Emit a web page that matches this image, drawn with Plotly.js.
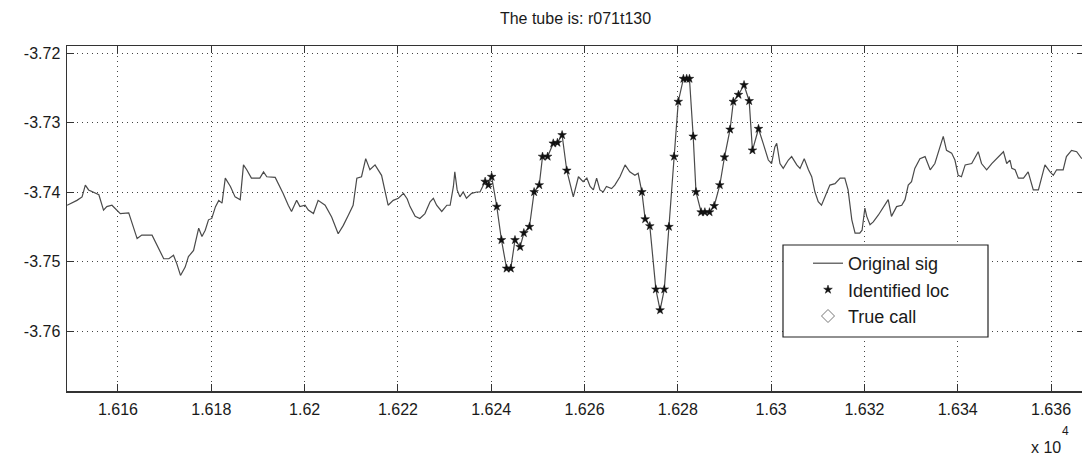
<!DOCTYPE html>
<html>
<head>
<meta charset="utf-8">
<script src="https://cdn.plot.ly/plotly-3.0.1.min.js"></script>
<style>
html,body{margin:0;padding:0;background:#fff;overflow:hidden;}
#chart{width:1084px;height:462px;}
</style>
</head>
<body>
<div id="chart"></div>
<script>
// Original signal (x in samples, y values)
const sigX = [16149.1,16150.1,16151.2,16152.3,16153.0,16153.7,16154.8,16155.9,16156.9,16157.6,16158.7,16159.8,16160.5,16162.3,16164.1,16165.1,16167.3,16169.8,16170.9,16171.9,16172.6,16173.4,16174.4,16175.1,16176.2,16177.3,16178.0,16178.7,16179.4,16180.1,16180.9,16181.6,16182.3,16183.0,16184.1,16185.1,16186.2,
16186.9,16187.6,16188.6,16190.4,16191.2,16191.9,16193.7,16194.4,16195.4,16196.5,16197.2,16198.3,16199.0,16200.1,16200.8,16201.9,16202.9,16204.4,16205.8,16207.2,16208.3,16209.4,16210.4,16211.2,16212.2,16213.1,16214.0,16215.1,16216.5,16217.9,16219.0,16220.1,16221.2,
16222.0,16222.6,16223.7,16224.7,16225.8,16226.9,16227.6,16228.3,16229.4,16230.5,16231.2,16231.9,16232.2,16232.7,16233.3,16234.0,16234.7,16235.8,16236.9,16237.6,
16238.7,16239.4,16240.1,16241.2,16242.2,16243.3,16244.2,16245.1,16246.2,16247.0,16248.2,16249.2,16250.3,16251.0,16252.1,16253.3,16254.2,16255.2,16256.2,
16257.6,16258.7,16259.7,16260.5,16261.2,16261.9,16262.6,16263.3,16264.0,16264.7,16265.8,16266.5,16267.6,16268.7,16269.7,16270.8,16271.5,
16272.3,16273.0,16274.0,16275.3,16276.2,16277.1,16278.1,16279.2,16280.1,16281.2,16281.9,16282.5,16283.3,16283.9,16285.0,16285.8,16286.8,16287.8,16289.0,16290.0,16291.2,16291.9,16293.0,16294.2,16295.3,16296.0,16297.3,
16298.3,16299.4,16300.1,16300.8,16301.2,16301.9,16302.6,16303.7,16304.4,16305.5,16306.2,16307.1,16308.0,16308.7,16309.4,16310.1,16310.8,16311.5,16312.6,16313.7,16314.8,16315.8,16316.5,16317.3,16318.0,16319.0,16319.5,16320.1,16320.5,16321.2,16321.9,16323.0,16324.0,16325.1,16325.8,16326.9,16328.0,16328.7,16329.4,
16330.1,16330.8,16331.9,16333.0,16334.1,16335.1,16336.2,16336.9,16337.6,16338.7,16339.4,16340.1,16340.8,16341.6,16343.0,16344.4,16345.1,16346.2,16347.3,16348.3,16349.8,16350.5,16351.2,16351.6,16352.3,16353.0,16354.1,16355.1,16356.2,16357.3,16358.0,16358.7,16359.8,16360.5,16361.2,16362.6,16363.3,16364.4,16365.5,16366.6];
const sigY = [-3.7419,-3.7416,-3.7412,-3.7407,-3.7390,-3.7397,-3.7400,-3.7404,-3.7426,-3.7421,-3.7419,-3.7426,-3.7431,-3.7430,-3.7467,-3.7462,-3.7462,-3.7496,-3.7496,-3.7491,-3.7503,-3.7520,-3.7508,-3.7493,-3.7484,-3.7452,-3.7464,-3.7455,-3.7440,-3.7438,-3.7421,-3.7412,-3.7416,-3.7380,-3.7392,-3.7407,-3.7411,
-3.7361,-3.7368,-3.7380,-3.7380,-3.7371,-3.7378,-3.7379,-3.7388,-3.7402,-3.7419,-3.7428,-3.7412,-3.7421,-3.7419,-3.7426,-3.7431,-3.7412,-3.7419,-3.7436,-3.7460,-3.7448,-3.7433,-3.7419,-3.7380,-3.7378,-3.7352,-3.7368,-3.7361,-3.7376,-3.7419,-3.7412,-3.7409,-3.7402,
-3.7410,-3.7421,-3.7435,-3.7438,-3.7431,-3.7414,-3.7409,-3.7419,-3.7428,-3.7419,-3.7419,-3.7392,-3.7371,-3.7397,-3.7407,-3.7400,-3.7409,-3.7402,-3.7400,-3.7400,
-3.7385,-3.7390,-3.7378,-3.7421,-3.7469,-3.7510,-3.7510,-3.7469,-3.7479,-3.7459,-3.7450,-3.7400,-3.7390,-3.7349,-3.7349,-3.7330,-3.7329,-3.7318,-3.7369,
-3.7407,-3.7378,-3.7385,-3.7380,-3.7392,-3.7397,-3.7380,-3.7397,-3.7400,-3.7392,-3.7395,-3.7390,-3.7378,-3.7361,-3.7371,-3.7376,-3.7373,
-3.7400,-3.7439,-3.7449,-3.7540,-3.7570,-3.7540,-3.7450,-3.7349,-3.7270,-3.7237,-3.7237,-3.7237,-3.7320,-3.7400,-3.7429,-3.7429,-3.7429,-3.7420,-3.7390,-3.7350,-3.7310,-3.7270,-3.7260,-3.7246,-3.7269,-3.7340,-3.7309,
-3.7330,-3.7354,-3.7359,-3.7335,-3.7330,-3.7359,-3.7366,-3.7354,-3.7349,-3.7361,-3.7366,-3.7352,-3.7368,-3.7378,-3.7400,-3.7414,-3.7419,-3.7407,-3.7390,-3.7388,-3.7380,-3.7380,-3.7397,-3.7440,-3.7459,-3.7459,-3.7455,-3.7423,-3.7435,-3.7447,-3.7443,-3.7433,-3.7423,-3.7411,-3.7435,-3.7421,-3.7419,-3.7411,-3.7390,
-3.7385,-3.7366,-3.7352,-3.7349,-3.7368,-3.7359,-3.7337,-3.7320,-3.7340,-3.7344,-3.7354,-3.7376,-3.7378,-3.7361,-3.7359,-3.7342,-3.7359,-3.7368,-3.7359,-3.7352,-3.7342,-3.7359,-3.7354,-3.7366,-3.7368,-3.7380,-3.7380,-3.7371,-3.7397,-3.7397,-3.7378,-3.7361,-3.7371,-3.7376,-3.7368,-3.7368,-3.7349,-3.7340,-3.7342,-3.7352];

// Identified locations
const locX = [16238.7,16239.4,16240.1,16241.2,16242.2,16243.3,16244.2,16245.1,16246.2,16247.0,16248.2,16249.2,16250.3,16251.0,16252.1,16253.3,16254.2,16255.2,16256.2,
16272.3,16273.0,16274.0,16275.3,16276.2,16277.1,16278.1,16279.2,16280.1,16281.2,16281.9,16282.5,16283.3,16283.9,16285.0,16285.8,16286.8,16287.8,16289.0,16290.0,16291.2,16291.9,16293.0,16294.2,16295.3,16296.0,16297.3];
const locY = [-3.7385,-3.7390,-3.7378,-3.7421,-3.7469,-3.7510,-3.7510,-3.7469,-3.7479,-3.7459,-3.7450,-3.7400,-3.7390,-3.7349,-3.7349,-3.7330,-3.7329,-3.7318,-3.7369,
-3.7400,-3.7439,-3.7449,-3.7540,-3.7570,-3.7540,-3.7450,-3.7349,-3.7270,-3.7237,-3.7237,-3.7237,-3.7320,-3.7400,-3.7429,-3.7429,-3.7429,-3.7420,-3.7390,-3.7350,-3.7310,-3.7270,-3.7260,-3.7246,-3.7269,-3.7340,-3.7309];

// True calls (none in this window)
const trueX = [null];
const trueY = [null];

const xTickVals = [16160,16180,16200,16220,16240,16260,16280,16300,16320,16340,16360];
const xTickText = ['1.616','1.618','1.62','1.622','1.624','1.626','1.628','1.63','1.632','1.634','1.636'];
const yTickVals = [-3.72,-3.73,-3.74,-3.75,-3.76];
const yTickText = ['-3.72','-3.73','-3.74','-3.75','-3.76'];

const seriesNames = ['Original sig','Identified loc','True call'];
const titleText = 'The tube is: r071t130';

const FONT = 'Liberation Sans, Arial, Helvetica, sans-serif';
const AX = '#333333';
const TXT = '#1a1a1a';

const traces = [
  {x: sigX, y: sigY, type: 'scatter', mode: 'lines', name: seriesNames[0], legendgroup: 'a',
   line: {color: '#4a4a4a', width: 1.2}},
  {x: locX, y: locY, type: 'scatter', mode: 'markers', name: seriesNames[1], legendgroup: 'b',
   marker: {symbol: 'star', size: 6.5, color: '#111111', line: {width: 0.5, color: '#111111'}}},
  {x: trueX, y: trueY, type: 'scatter', mode: 'markers', name: seriesNames[2], legendgroup: 'c',
   marker: {symbol: 'diamond-open', size: 10, color: '#777777', line: {width: 1}}}
];

const L = 67, W = 1084, T = 46, H = 462, B = 71;
const pw = W - L, ph = H - T - B;
function px(v){ return (v - L) / pw; }
function py(v){ return (H - B - v) / ph; }

const layout = {
  width: W, height: H,
  margin: {l: L, r: 0, t: T, b: B, pad: 0},
  paper_bgcolor: '#ffffff', plot_bgcolor: '#ffffff',
  font: {family: FONT, size: 16, color: TXT},
  title: {text: titleText, x: 0.5, xref: 'paper', y: 1 - 18/H, yref: 'container', yanchor: 'middle',
          font: {family: FONT, size: 16, color: TXT}},
  showlegend: true,
  xaxis: {
    range: [16149.07, 16367.07], tickmode: 'array', tickvals: xTickVals, ticktext: xTickText,
    ticks: 'inside', ticklen: 7, tickwidth: 1, tickcolor: AX, ticklabelstandoff: 3,
    showline: true, linecolor: AX, linewidth: 1.5, mirror: 'ticks',
    showgrid: true, gridcolor: '#444444', gridwidth: 1, griddash: '1px,4px',
    zeroline: false, tickfont: {family: FONT, size: 16, color: TXT}
  },
  yaxis: {
    range: [-3.76863, -3.71899], tickmode: 'array', tickvals: yTickVals, ticktext: yTickText,
    ticks: 'inside', ticklen: 7, tickwidth: 1, tickcolor: AX, ticklabelstandoff: 2,
    showline: true, linecolor: AX, linewidth: 1.5, mirror: 'ticks',
    showgrid: true, gridcolor: '#444444', gridwidth: 1, griddash: '1px,4px',
    zeroline: false, tickfont: {family: FONT, size: 16, color: TXT}
  },
  legend: {
    x: px(808), y: py(245), xanchor: 'left', yanchor: 'top',
    bgcolor: 'rgba(0,0,0,0)', borderwidth: 0,
    font: {family: FONT, size: 18, color: TXT},
    tracegroupgap: 0
  },
  shapes: [
    {type: 'rect', xref: 'paper', yref: 'paper', layer: 'above',
     x0: px(783), x1: px(988), y0: py(337), y1: py(245),
     fillcolor: '#ffffff', line: {color: '#222222', width: 1.2}}
  ],
  annotations: [
    {xref: 'paper', yref: 'paper', x: px(1029), y: py(447), xanchor: 'left', yanchor: 'middle',
     text: 'x 10', showarrow: false, font: {family: FONT, size: 16, color: TXT}},
    {xref: 'paper', yref: 'paper', x: px(1060), y: py(431), xanchor: 'left', yanchor: 'middle',
     text: '4', showarrow: false, font: {family: FONT, size: 12, color: TXT}}
  ]
};

Plotly.newPlot('chart', traces, layout, {displayModeBar: false, staticPlot: true});
</script>
</body>
</html>
